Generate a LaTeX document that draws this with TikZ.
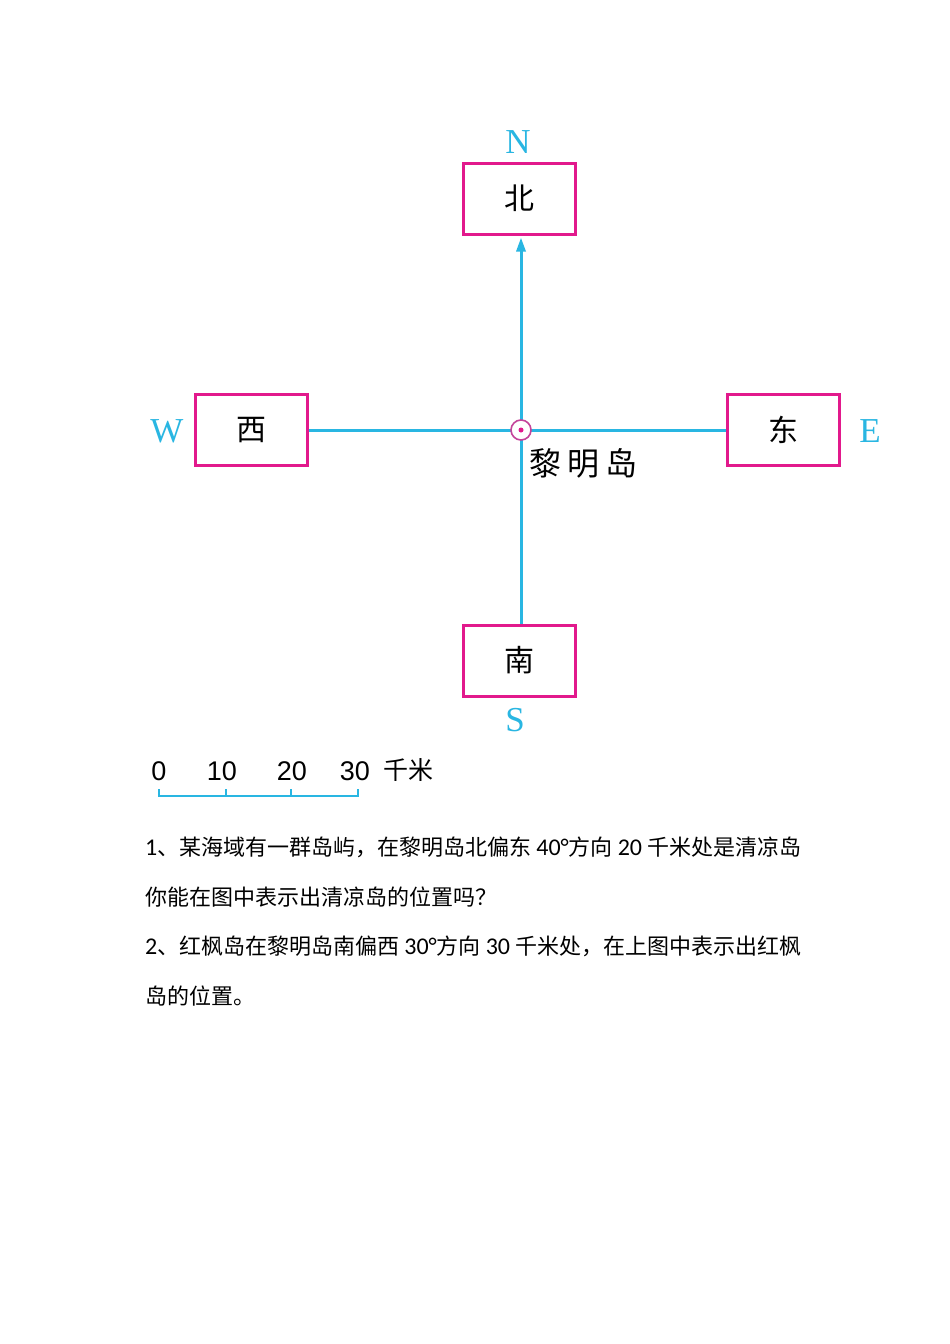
\documentclass[tikz,border=0pt]{standalone}
\usepackage{fontspec}
\setmainfont{Liberation Sans}
\newfontfamily\cjk{Noto Sans CJK SC}
\newfontfamily\serifletter{Liberation Serif}
\newfontfamily\qlatin{Carlito}
\usetikzlibrary{arrows.meta,calc}
\definecolor{axiscyan}{RGB}{41,182,226}
\definecolor{boxmag}{RGB}{226,25,140}
\definecolor{ringmag}{RGB}{196,68,154}
\newcommand{\qc}[1]{{\cjk\fontsize{22}{22}\selectfont #1}}
\tikzset{
  dirbox/.style={draw=boxmag, line width=3pt, fill=white, minimum width=112pt, minimum height=71pt, inner sep=0pt, font=\cjk\fontsize{30}{30}\selectfont},
  dirletter/.style={text=axiscyan, inner sep=0pt, font=\serifletter\fontsize{35}{35}\selectfont},
  axisline/.style={draw=axiscyan, line width=3pt},
  scalenum/.style={anchor=base, inner sep=0pt, font=\fontsize{27}{27}\selectfont},
  qtext/.style={anchor=base west, inner sep=0pt, font=\qlatin\fontsize{24}{24}\selectfont}
}
\begin{document}
\begin{tikzpicture}[x=1pt,y=-1pt]
\path[use as bounding box, fill=white] (0,0) rectangle (950,1344);
% boxes
\node[dirbox] (n) at (519,198.5) {北};
\node[dirbox] (s) at (519,660.5) {南};
\node[dirbox] (w) at (251,430) {西};
\node[dirbox] (e) at (783,430) {东};
\coordinate (c) at (521,430);
% axis lines
\draw[axisline] (w.east) -- (e.west);
\draw[axisline] (c) -- (c |- s.north);
\draw[axisline, -{Triangle[length=14pt,width=9pt]}] (c) -- ($(c |- n.south)+(0,2)$);
% centre marker
\node[circle, draw=ringmag, line width=1.6pt, fill=white, minimum size=20pt, inner sep=0pt] (ring) at (c) {};
\node[circle, fill=boxmag, minimum size=5pt, inner sep=0pt] (dot) at (c) {};
\node[anchor=west, inner sep=0pt, font=\cjk\fontsize{32}{32}\selectfont] (lm) at (529,463) {黎\hspace{6pt}明\hspace{6pt}岛};
% direction letters
\node[dirletter] (ln) at (518,142) {N};
\node[dirletter] (ls) at (515,720) {S};
\node[dirletter] (lw) at (167,431) {W};
\node[dirletter] (le) at (870,431) {E};
% scale
\node[scalenum] (s0) at (159,780) {0};
\node[scalenum] (s10) at (222,780) {10};
\node[scalenum] (s20) at (292,780) {20};
\node[scalenum] (s30) at (355,780) {30};
\node[anchor=base, inner sep=0pt, font=\cjk\fontsize{25}{25}\selectfont] (km) at (408,779) {千米};
\coordinate (b0) at (159,796);
\coordinate (b1) at (226,796);
\coordinate (b2) at (291,796);
\coordinate (b3) at (358,796);
\draw[axiscyan, line width=1.4pt] ($(b0)+(0,-7)$) -- (b0) -- (b3) -- ($(b3)+(0,-7)$);
\draw[axiscyan, line width=1.4pt] (b1) -- ($(b1)+(0,-7)$);
\draw[axiscyan, line width=1.4pt] (b2) -- ($(b2)+(0,-7)$);
% questions
\node[qtext] (q1) at (145,855) {1\qc{、某海域有一群岛屿，在黎明岛北偏东}\hspace{5pt}40°\qc{方向}\hspace{5pt}20\hspace{5pt}\qc{千米处是清凉岛}};
\node[qtext] (q2) at (145,905) {\qc{你能在图中表示出清凉岛的位置吗？}};
\node[qtext] (q3) at (145,954) {2\qc{、红枫岛在黎明岛南偏西}\hspace{5pt}30°\qc{方向}\hspace{5pt}30\hspace{5pt}\qc{千米处，在上图中表示出红枫}};
\node[qtext] (q4) at (145,1004) {\qc{岛的位置。}};
\end{tikzpicture}
\end{document}
